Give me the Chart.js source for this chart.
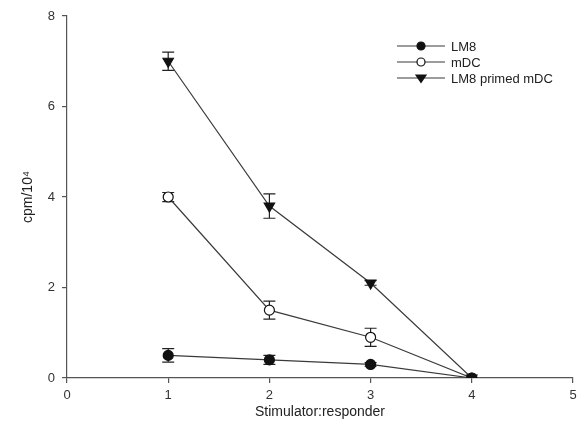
<!DOCTYPE html>
<html>
<head>
<meta charset="utf-8">
<script src="https://cdn.jsdelivr.net/npm/chart.js@4/dist/chart.umd.min.js"></script>
<style>
  html, body { margin: 0; padding: 0; background: #fff; }
  #wrap { width: 582px; height: 428px; }
</style>
</head>
<body>
<div id="wrap"><canvas id="c" width="582" height="428"></canvas></div>
<script>
// Stimulator:responder ratios
const ratios = [1, 2, 3, 4];
// cpm / 10^4 per group, with SEM
const lm8 = [0.5, 0.4, 0.3, 0.0];
const lm8Err = [0.15, 0.1, 0.04, 0.0];
const mdc = [4.0, 1.5, 0.9, 0.0];
const mdcErr = [0.1, 0.2, 0.2, 0.0];
const primed = [7.0, 3.8, 2.1, 0.0];
const primedErr = [0.2, 0.27, 0.05, 0.0];
const seriesNames = ['LM8', 'mDC', 'LM8 primed mDC'];

const lineColor = '#3a3a3a';
const axisColor = '#555';
const font = 'Liberation Sans, Arial, sans-serif';

function pts(ys) { return ratios.map((x, i) => ({ x: x, y: ys[i] })); }

const datasets = [
  { label: seriesNames[0], data: pts(lm8), err: lm8Err, pointStyle: 'circle', pointRadius: 5,
    pointBackgroundColor: '#111', pointBorderColor: '#111', rotation: 0 },
  { label: seriesNames[1], data: pts(mdc), err: mdcErr, pointStyle: 'circle', pointRadius: 5,
    pointBackgroundColor: '#fff', pointBorderColor: '#111', rotation: 0 },
  { label: seriesNames[2], data: pts(primed), err: primedErr, pointStyle: 'triangle', pointRadius: 6,
    pointBackgroundColor: '#111', pointBorderColor: '#111', rotation: 180 }
].map(d => Object.assign({
  borderColor: lineColor, borderWidth: 1.2, pointBorderWidth: 1.2, tension: 0,
  showLine: true, fill: false
}, d));

// Vertical error bars with caps, drawn beneath the markers
const errorBars = {
  id: 'errorBars',
  beforeDatasetsDraw(chart) {
    const ctx = chart.ctx, xs = chart.scales.x, ys = chart.scales.y;
    ctx.save();
    ctx.strokeStyle = '#222';
    ctx.lineWidth = 1.2;
    chart.data.datasets.forEach(ds => {
      ds.data.forEach((p, i) => {
        const e = ds.err[i];
        if (!e) return;
        const px = xs.getPixelForValue(p.x);
        const top = ys.getPixelForValue(p.y + e);
        const bot = ys.getPixelForValue(p.y - e);
        ctx.beginPath();
        ctx.moveTo(px, top); ctx.lineTo(px, bot);
        ctx.moveTo(px - 6, top); ctx.lineTo(px + 6, top);
        ctx.moveTo(px - 6, bot); ctx.lineTo(px + 6, bot);
        ctx.stroke();
      });
    });
    ctx.restore();
  }
};

// Legend inside the plot, upper right
const insetLegend = {
  id: 'insetLegend',
  afterDraw(chart) {
    const ctx = chart.ctx;
    ctx.save();
    const x0 = 397, x1 = 445, y0 = 46, dy = 16;
    chart.data.datasets.forEach((ds, i) => {
      const y = y0 + i * dy;
      const cx = (x0 + x1) / 2;
      ctx.strokeStyle = lineColor;
      ctx.lineWidth = 1.2;
      ctx.beginPath(); ctx.moveTo(x0, y); ctx.lineTo(x1, y); ctx.stroke();
      ctx.fillStyle = ds.pointBackgroundColor;
      ctx.strokeStyle = ds.pointBorderColor;
      ctx.beginPath();
      if (ds.pointStyle === 'circle') {
        ctx.arc(cx, y, 4, 0, Math.PI * 2);
      } else {
        const r = 5;
        ctx.moveTo(cx - r, y - r * 0.6); ctx.lineTo(cx + r, y - r * 0.6); ctx.lineTo(cx, y + r * 0.9); ctx.closePath();
      }
      ctx.fill(); ctx.stroke();
      ctx.fillStyle = '#222';
      ctx.font = '13px ' + font;
      ctx.textBaseline = 'middle';
      ctx.textAlign = 'left';
      ctx.fillText(ds.label, 451, y + 1);
    });
    ctx.restore();
  }
};

new Chart(document.getElementById('c'), {
  type: 'scatter',
  data: { datasets },
  plugins: [errorBars, insetLegend],
  options: {
    responsive: false,
    animation: false,
    layout: { padding: { top: 16, right: 9, left: 0, bottom: 0 } },
    plugins: { legend: { display: false }, tooltip: { enabled: false } },
    scales: {
      x: {
        type: 'linear', min: 0, max: 5,
        afterFit(s) { s.height = 50; },
        ticks: { stepSize: 1, color: '#333', font: { family: font, size: 13 }, padding: 5 },
        grid: { drawOnChartArea: false, tickLength: 5, color: axisColor, lineWidth: 1.2 },
        border: { color: axisColor, width: 1.2 },
        title: { display: true, text: 'Stimulator:responder', color: '#222',
                 font: { family: font, size: 14 }, padding: { top: 0, bottom: 7 } }
      },
      y: {
        type: 'linear', min: 0, max: 8,
        afterFit(s) { s.width = 67; },
        ticks: { stepSize: 2, color: '#333', font: { family: font, size: 13 }, padding: 7 },
        grid: { drawOnChartArea: false, tickLength: 5, color: axisColor, lineWidth: 1.2 },
        border: { color: axisColor, width: 1.2 },
        title: { display: true, text: 'cpm/10\u2074', color: '#222',
                 font: { family: font, size: 14 }, padding: { top: 20, bottom: 0 } }
      }
    }
  }
});
</script>
</body>
</html>
